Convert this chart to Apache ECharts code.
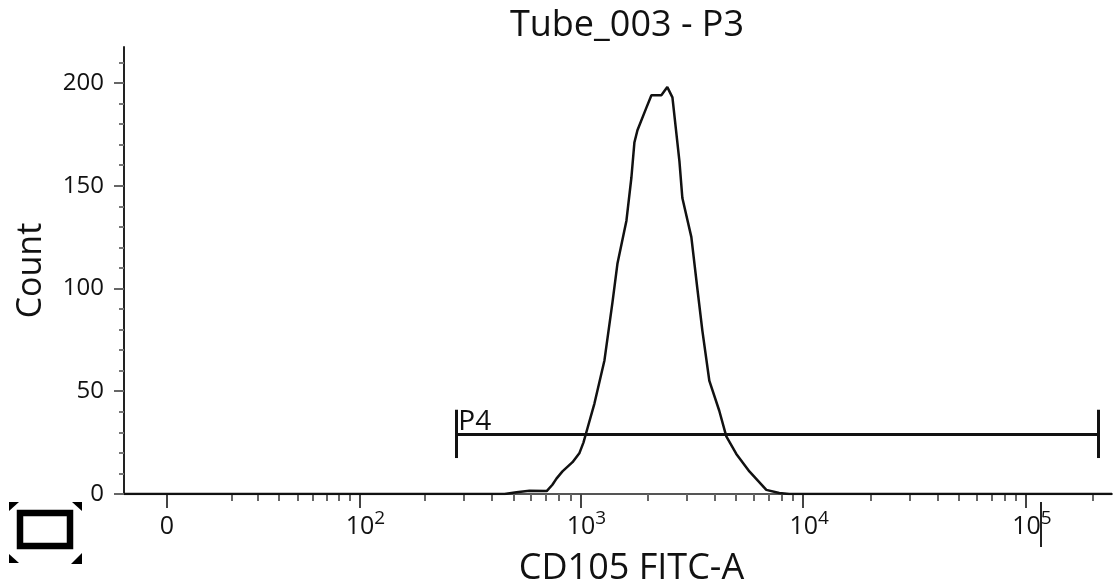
<!DOCTYPE html>
<html><head><meta charset="utf-8">
<script src="https://cdn.jsdelivr.net/npm/echarts@6/dist/echarts.min.js"></script>
<style>html,body{margin:0;padding:0;background:#fff}#c{width:1113px;height:584px}</style>
</head><body><div id="c"></div>
<script>
// ---- data ----
const titleText = 'Tube_003 - P3';
const xName = 'CD105 FITC-A';
const yName = 'Count';
// histogram: FITC intensity (channel value) and event count
const intensity = [456, 516, 590, 705, 748, 780, 830, 921, 990, 1031, 1075, 1155, 1281, 1391, 1465, 1608, 1693, 1746, 1802, 1977, 2082, 2307, 2454, 2587, 2781, 2867, 3146, 3347, 3525, 3790, 4198, 4515, 5007, 5731, 6828, 7803, 8650];
const counts    = [0,   0.8, 1.6, 1.4, 4.5, 7.5, 11,  15.5, 20, 25,   32,   44,   65,   93,   112,  133,  154,  171,  177,  188,  194,  194,  198,  193,  162,  144,  125,  100,  79.5, 55,   40.5, 28,   19.5, 11,   2,    0.5,  0];
// x axis ticks
const majorTickValues = [0, 100, 1000, 10000, 100000];
const majorTickExponents = [null, 2, 3, 4, 5];
const minorTickValues = [20, 30, 40, 50, 60, 70, 80, 90,
  200, 300, 400, 500, 600, 700, 800, 900,
  2000, 3000, 4000, 5000, 6000, 7000, 8000, 9000,
  20000, 30000, 40000, 50000, 60000, 70000, 80000, 90000, 200000];
// y axis ticks
const yTickValues = [0, 50, 100, 150, 200];
// gate P4
const gateLabel = 'P4';
const gateStart = 275, gateEnd = 212000, gateLevel = 29, gateCapTop = 41, gateCapBottom = 17.5;

// ---- biexponential-like display transform ----
const C = 27.8;
function biex(v) { return Math.log10((v + Math.sqrt(v * v + C * C)) / 2); }
const X_MIN = 0.951, X_MAX = 5.386, Y_MAX = 217.5;

const FONT = 'Open Sans';
const majorPos = majorTickValues.map(biex);
const minorPos = minorTickValues.map(biex);

const histData = [[X_MIN, 0]].concat(intensity.map((v, i) => [biex(v), counts[i]])).concat([[X_MAX, 0]]);
const gs = biex(gateStart), ge = biex(gateEnd);

const chart = echarts.init(document.getElementById('c'), null, {renderer: 'canvas'});
chart.setOption({
  animation: false,
  backgroundColor: '#fff',
  title: {
    text: titleText, left: 622, top: 3, textAlign: 'center',
    textStyle: {fontFamily: FONT, fontSize: 36, fontWeight: 'normal', color: '#111'}
  },
  grid: {left: 124, right: 1, top: 47, bottom: 90, containLabel: false, outerBoundsMode: 'none'},
  xAxis: [{
    type: 'value', min: X_MIN, max: X_MAX,
    axisLine: {show: true, lineStyle: {color: '#555', width: 2}},
    axisTick: {show: true, customValues: majorPos, length: 14, lineStyle: {color: '#444', width: 2}},
    axisLabel: {
      show: true, customValues: majorPos, margin: 15, color: '#111', fontFamily: FONT,
      formatter: function (val) {
        let idx = 0, best = 1e9;
        majorPos.forEach((p, i) => { const d = Math.abs(p - val); if (d < best) { best = d; idx = i; } });
        const e = majorTickExponents[idx];
        return e == null ? '{z|0}' : '{b|10}{s|' + e + '}';
      },
      rich: {
        z: {fontFamily: FONT, fontSize: 25, color: '#111', lineHeight: 30, verticalAlign: 'bottom'},
        b: {fontFamily: FONT, fontSize: 25, color: '#111', lineHeight: 30, verticalAlign: 'bottom', padding: [0, 0, 0, 12]},
        s: {fontFamily: FONT, fontSize: 19, color: '#111', lineHeight: 17, verticalAlign: 'top'}
      }
    },
    splitLine: {show: false},
    name: xName, nameLocation: 'middle', nameGap: 57,
    nameTextStyle: {fontFamily: FONT, fontSize: 36, color: '#111', padding: [0, 0, 0, 27]}
  }, {
    type: 'value', min: X_MIN, max: X_MAX, gridIndex: 0, position: 'bottom',
    axisLine: {show: false},
    axisTick: {show: true, customValues: minorPos, length: 7, lineStyle: {color: '#666', width: 2}},
    axisLabel: {show: false},
    splitLine: {show: false}
  }],
  yAxis: {
    type: 'value', min: 0, max: Y_MAX, interval: 50,
    axisLine: {show: true, lineStyle: {color: '#222', width: 2}},
    axisTick: {show: true, customValues: yTickValues, length: 10, lineStyle: {color: '#666', width: 2}},
    minorTick: {show: true, splitNumber: 5, length: 5, lineStyle: {color: '#777', width: 2}},
    axisLabel: {show: true, customValues: yTickValues, margin: 20, fontFamily: FONT, fontSize: 24, color: '#111'},
    splitLine: {show: false},
    name: yName, nameLocation: 'middle', nameGap: 76,
    nameTextStyle: {fontFamily: FONT, fontSize: 34, color: '#111'}
  },
  series: [{
    type: 'line', name: 'hist', data: histData, xAxisIndex: 0,
    symbol: 'none', smooth: false, z: 3,
    lineStyle: {color: '#111', width: 2.5}
  }, {
    type: 'line', name: 'gate', xAxisIndex: 0, z: 4,
    data: [
      {value: [gs, gateLevel], label: {show: true, formatter: gateLabel, position: [3, -26], align: 'left', verticalAlign: 'top', fontFamily: FONT, fontSize: 28, color: '#111'}},
      {value: [ge, gateLevel]}
    ],
    symbol: 'circle', symbolSize: 1, showSymbol: true,
    itemStyle: {color: '#111'},
    lineStyle: {color: '#111', width: 3},
    markLine: {
      silent: true, symbol: ['none', 'none'], label: {show: false},
      lineStyle: {color: '#111', width: 3, type: 'solid'},
      data: [
        [{coord: [gs, gateCapTop]}, {coord: [gs, gateCapBottom]}],
        [{coord: [ge, gateCapTop]}, {coord: [ge, gateCapBottom]}]
      ]
    }
  }],
  graphic: [
    {type: 'rect', shape: {x: 20, y: 513, width: 50, height: 33}, style: {fill: 'none', stroke: '#000', lineWidth: 6.5}},
    {type: 'polygon', shape: {points: [[9, 502], [19, 502], [9, 511]]}, style: {fill: '#000'}},
    {type: 'polygon', shape: {points: [[72, 502], [82, 502], [82, 511]]}, style: {fill: '#000'}},
    {type: 'polygon', shape: {points: [[9, 554], [9, 563], [19, 563]]}, style: {fill: '#000'}},
    {type: 'polygon', shape: {points: [[82, 553], [82, 564], [71, 564]]}, style: {fill: '#000'}},
    {type: 'line', shape: {x1: 1041, y1: 502, x2: 1041, y2: 547}, style: {stroke: '#222', lineWidth: 2}}
  ]
});
</script>
</body></html>
